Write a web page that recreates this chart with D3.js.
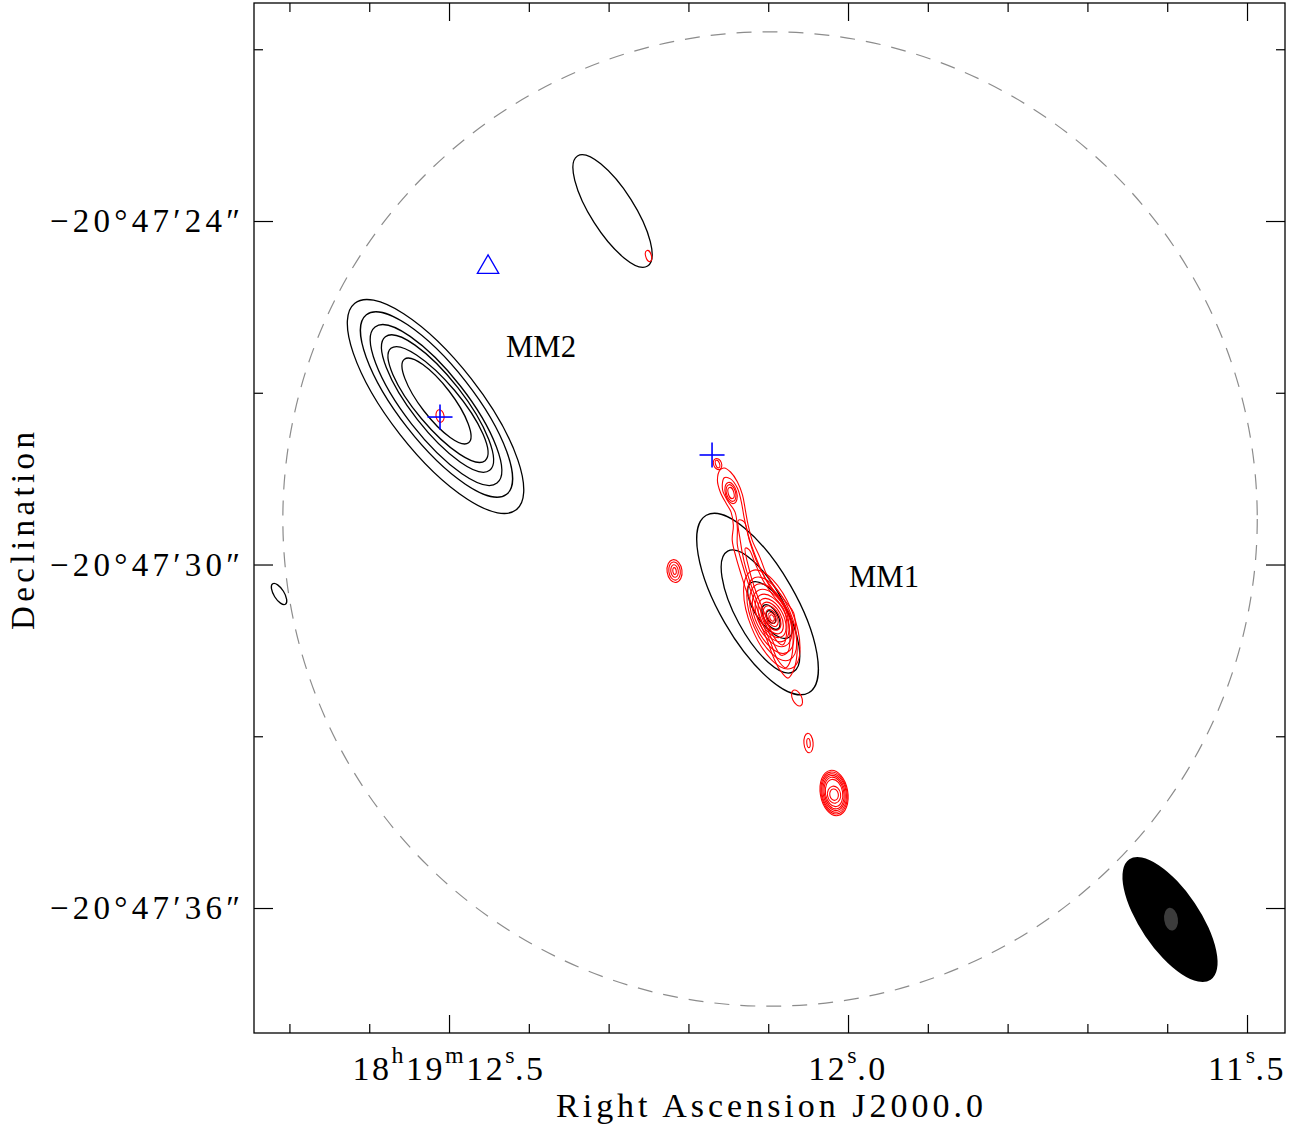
<!DOCTYPE html>
<html><head><meta charset="utf-8">
<script src="https://cdn.jsdelivr.net/npm/d3@7"></script>
<style>body{margin:0;background:#fff} text{font-family:"Liberation Serif",serif;fill:#000}</style>
</head><body><svg id="c" width="1309" height="1127"></svg>
<script>
// ---- axes data (RA seconds of 18h19m, Dec arcsec of -20°47') ----
const raDomain = [12.7444, 11.4524];
const decDomain = [20.192, 38.183];
const raMinorTicks = [12.7, 12.6, 12.4, 12.3, 12.2, 12.1, 11.9, 11.8, 11.7, 11.6];
const raMajorTicks = [12.5, 12.0, 11.5];
const raLabels = [["18","h","19","m","12","s","5"], ["12","s","0"], ["11","s","5"]];
const decMinorTicks = [21, 27, 33];
const decMajorTicks = [24, 30, 36];
const decLabels = ["−20°47′24″", "−20°47′30″", "−20°47′36″"];
const xTitle = "Right Ascension J2000.0";
const yTitle = "Declination";
const decRef = -20.79; // degrees, for RA offsets

// ---- primary beam ----
const primaryBeam = [12.0977, 29.205, 8.51]; // ra, dec, radius(")

// ---- ellipse contours: [ra(s), dec("), semi-major("), semi-minor("), PA(deg)] ----
const mm2Black = [
  [12.5169, 27.240, 2.29, 0.79, 38],
  [12.5157, 27.205, 1.99, 0.65, 38],
  [12.5163, 27.214, 1.73, 0.54, 38],
  [12.5144, 27.188, 1.48, 0.45, 38],
  [12.5138, 27.205, 1.28, 0.38, 40],
  [12.5157, 27.144, 0.92, 0.28, 37.5]
];
const mm1Black = [
  [12.1134, 30.690, 1.79, 0.66, 30],
  [12.1097, 30.821, 1.20, 0.43, 28.5],
  [12.0977, 30.795, 0.58, 0.25, 35],
  [12.0965, 30.917, 0.24, 0.12, 30],
  [12.0965, 30.917, 0.12, 0.07, 30]
];
const otherBlack = [
  [12.2951, 23.825, 1.14, 0.38, 32.5],
  [12.7130, 30.515, 0.21, 0.09, 32]
];
const redEllipses = [
  [12.5113, 27.406, 0.11, 0.07, 10],
  [12.2500, 24.611, 0.10, 0.05, 15],
  [12.1635, 28.245, 0.10, 0.07, 20],
  [12.1635, 28.245, 0.07, 0.035, 20],
  [12.1466, 28.751, 0.19, 0.10, 15],
  [12.1466, 28.751, 0.15, 0.08, 15],
  [12.1466, 28.751, 0.10, 0.05, 15],
  [12.2174, 30.114, 0.20, 0.13, 8],
  [12.2174, 30.114, 0.16, 0.10, 8],
  [12.2174, 30.114, 0.11, 0.065, 8],
  [12.2174, 30.114, 0.06, 0.03, 8],
  [12.0639, 32.332, 0.15, 0.08, 25],
  [12.0495, 33.118, 0.17, 0.08, 5],
  [12.0495, 33.118, 0.08, 0.03, 5],
  [12.0175, 33.991, 0.40, 0.24, 10],
  [12.0175, 33.991, 0.37, 0.225, 10],
  [12.0175, 33.991, 0.34, 0.21, 10],
  [12.0175, 33.991, 0.31, 0.19, 10],
  [12.0175, 33.991, 0.28, 0.17, 10],
  [12.0175, 33.991, 0.24, 0.15, 10],
  [12.0175, 34.020, 0.15, 0.115, 10],
  [12.0175, 34.020, 0.10, 0.075, 10],
  // MM1 peak rings
  [12.0955, 30.960, 0.92, 0.38, 22],
  [12.0955, 30.950, 0.78, 0.34, 23],
  [12.0955, 30.945, 0.65, 0.31, 24],
  [12.0952, 30.934, 0.54, 0.28, 26],
  [12.0952, 30.934, 0.45, 0.24, 27],
  [12.0952, 30.934, 0.37, 0.20, 27],
  [12.0952, 30.934, 0.30, 0.16, 27],
  [12.0952, 30.934, 0.23, 0.13, 27],
  [12.0952, 30.934, 0.16, 0.09, 27],
  [12.0952, 30.934, 0.10, 0.06, 27],
  [12.0952, 30.934, 0.06, 0.035, 27]
];
// ---- MM1 jet contours: offsets [dRA("), dDec(")] from the MM1 peak ----
const mm1Peak = [12.0952, 30.934];
const jetL1 = [[0.91,2.59],[0.96,2.41],[0.91,2.20],[0.80,1.99],[0.72,1.85],[0.68,1.62],[0.70,1.36],[0.63,1.05],[0.54,0.75],[0.44,0.44],[0.26,0.02],[0.09,-0.38],[-0.03,-0.70],[-0.14,-0.91],[-0.28,-1.05],[-0.38,-0.91],[-0.44,-0.61],[-0.42,-0.26],[-0.38,0.09],[-0.26,0.26],[-0.09,0.49],[0.09,0.75],[0.21,1.05],[0.35,1.36],[0.42,1.62],[0.47,1.89],[0.52,2.15],[0.61,2.38],[0.73,2.55],[0.84,2.62]];
const jetL2 = [[0.84,2.45],[0.87,2.24],[0.77,2.03],[0.65,1.85],[0.61,1.57],[0.61,1.28],[0.52,0.93],[0.38,0.49],[0.21,0.02],[0.03,-0.42],[-0.10,-0.73],[-0.24,-0.87],[-0.33,-0.73],[-0.37,-0.38],[-0.33,0.02],[-0.19,0.26],[0,0.49],[0.16,0.77],[0.30,1.10],[0.42,1.45],[0.49,1.75],[0.54,2.03],[0.61,2.27],[0.73,2.43]];
const jetL3 = [[0.59,1.71],[0.56,1.36],[0.49,0.98],[0.35,0.52],[0.17,0.05],[0,-0.38],[-0.16,-0.65],[-0.28,-0.59],[-0.31,-0.24],[-0.24,0.14],[-0.07,0.42],[0.12,0.70],[0.28,1.01],[0.40,1.36],[0.49,1.68]];
const jetL4 = [[0.47,1.22],[0.40,0.84],[0.28,0.45],[0.12,0.05],[-0.03,-0.33],[-0.19,-0.47],[-0.26,-0.21],[-0.21,0.14],[-0.03,0.38],[0.16,0.66],[0.30,0.96],[0.40,1.19]];
const jetContours = [jetL1, jetL2, jetL3, jetL4];

// ---- markers ----
const crosses = [[12.5113, 27.424], [12.1704, 28.087]];
const crossHalf = 0.22;
const triangles = [[12.4511, 24.807]];
const sourceLabels = [["MM2", 12.4286, 26.376], ["MM1", 11.9987, 30.393]];
const beam = [11.5965, 36.201, 1.27, 0.52, 34];
const beamInner = [11.5952, 36.195, 0.20, 0.12, 8];

// ---- layout ----
const L = 254, R = 1285, T = 3, B = 1033;
const svg = d3.select("#c");
const x = d3.scaleLinear().domain(raDomain).range([L, R]);
const y = d3.scaleLinear().domain(decDomain).range([T, B]);
const k = Math.abs(y(1) - y(0));
const raPerArcsec = 1 / (15 * Math.cos(decRef * Math.PI / 180));

svg.append("defs").append("clipPath").attr("id","clip")
  .append("rect").attr("x",L).attr("y",T).attr("width",R-L).attr("height",B-T);
const plot = svg.append("g").attr("clip-path","url(#clip)");

// primary beam circle
plot.append("circle").attr("cx", x(primaryBeam[0])).attr("cy", y(primaryBeam[1]))
  .attr("r", primaryBeam[2]*k).attr("fill","none").attr("stroke","#8c8c8c")
  .attr("stroke-width",1.2).attr("stroke-dasharray","15,11");

function ellipse(g, e, stroke, fill, sw) {
  const [ra, dec, a, b, pa] = e;
  return g.append("ellipse")
    .attr("transform", `translate(${x(ra)},${y(dec)}) rotate(${90 - pa})`)
    .attr("rx", a*k).attr("ry", b*k)
    .attr("fill", fill || "none").attr("stroke", stroke || "none").attr("stroke-width", sw || 0);
}

const gBlack = plot.append("g");
[...mm2Black, ...mm1Black, ...otherBlack].forEach(e => ellipse(gBlack, e, "#000", "none", 1.3));

const gRed = plot.append("g");
const jetLine = d3.line()
  .x(d => x(mm1Peak[0] + d[0]*raPerArcsec))
  .y(d => y(mm1Peak[1] - d[1]))
  .curve(d3.curveCatmullRomClosed.alpha(0.5));
jetContours.forEach(c => gRed.append("path").attr("d", jetLine(c))
  .attr("fill","none").attr("stroke","#ff0000").attr("stroke-width",1.1));
redEllipses.forEach(e => ellipse(gRed, e, "#ff0000", "none", 1.1));

// beam
ellipse(plot, beam, "none", "#000", 0);
ellipse(plot, beamInner, "none", "#3c3c3c", 0);

// blue markers
const gBlue = plot.append("g").attr("stroke","#0000ff").attr("stroke-width",1.6).attr("fill","none");
crosses.forEach(([ra, dec]) => {
  gBlue.append("line").attr("x1", x(ra + crossHalf*raPerArcsec)).attr("x2", x(ra - crossHalf*raPerArcsec))
    .attr("y1", y(dec)).attr("y2", y(dec));
  gBlue.append("line").attr("x1", x(ra)).attr("x2", x(ra))
    .attr("y1", y(dec - crossHalf)).attr("y2", y(dec + crossHalf));
});
triangles.forEach(([ra, dec]) => {
  gBlue.append("path").attr("d", d3.symbol().type(d3.symbolTriangle).size(198)())
    .attr("transform", `translate(${x(ra)},${y(dec)})`).attr("stroke-width",1.3);
});

// source labels
sourceLabels.forEach(([t, ra, dec]) => {
  svg.append("text").attr("x", x(ra)).attr("y", y(dec)).attr("font-size", 32)
    .attr("textLength", 70).attr("lengthAdjust","spacingAndGlyphs").text(t);
});

// frame
svg.append("rect").attr("x",L).attr("y",T).attr("width",R-L).attr("height",B-T)
  .attr("fill","none").attr("stroke","#000").attr("stroke-width",1.3);

// ticks via d3 axes (inward)
function ticks(axisFn, scale, vals, len, transform) {
  const g = svg.append("g").attr("transform", transform)
    .call(axisFn(scale).tickValues(vals).tickSize(-len).tickFormat(""));
  g.select(".domain").remove();
  g.selectAll(".tick line").attr("stroke","#000").attr("stroke-width",1.2);
}
ticks(d3.axisBottom, x, raMinorTicks, 9, `translate(0,${B})`);
ticks(d3.axisBottom, x, raMajorTicks, 18, `translate(0,${B})`);
ticks(d3.axisTop, x, raMinorTicks, 9, `translate(0,${T})`);
ticks(d3.axisTop, x, raMajorTicks, 18, `translate(0,${T})`);
ticks(d3.axisLeft, y, decMinorTicks, 9, `translate(${L},0)`);
ticks(d3.axisLeft, y, decMajorTicks, 19, `translate(${L},0)`);
ticks(d3.axisRight, y, decMinorTicks, 9, `translate(${R},0)`);
ticks(d3.axisRight, y, decMajorTicks, 19, `translate(${R},0)`);

// RA tick labels: digits, superscript units, decimal point right after the "s"
raMajorTicks.forEach((v, i) => {
  const parts = raLabels[i];
  const t = svg.append("text").attr("x", x(v)).attr("y", 1080).attr("text-anchor","middle")
    .attr("font-size", 34).attr("letter-spacing", 2.5);
  let up = false;
  parts.forEach((p, j) => {
    const last = j === parts.length - 1;
    if (j % 2 === 1) {
      t.append("tspan").attr("font-size", 24).attr("dy", -17).text(p); up = true;
    } else if (last && parts[j-1] === "s") {
      t.append("tspan").attr("dy", 17).attr("dx", -2).text("." + p); up = false;
    } else {
      t.append("tspan").attr("dy", up ? 17 : 0).text(p); up = false;
    }
  });
});

// Dec tick labels
decMajorTicks.forEach((v, i) => {
  svg.append("text").attr("x", 240).attr("y", y(v) + 11).attr("text-anchor","end")
    .attr("font-size", 33).attr("textLength", 190).attr("lengthAdjust","spacing").text(decLabels[i]);
});

// axis titles
svg.append("text").attr("x", (L + R) / 2).attr("y", 1117).attr("text-anchor","middle")
  .attr("font-size", 34).attr("textLength", 427).attr("lengthAdjust","spacing").text(xTitle);
svg.append("text").attr("transform", `translate(34,${(T+B)/2 + 13}) rotate(-90)`).attr("text-anchor","middle")
  .attr("font-size", 33).attr("textLength", 198).attr("lengthAdjust","spacing").text(yTitle);
</script></body></html>
